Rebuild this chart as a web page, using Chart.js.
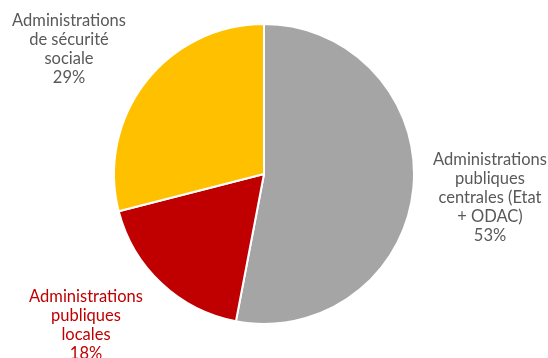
<!DOCTYPE html>
<html>
<head>
<meta charset="utf-8">
<script src="https://cdn.jsdelivr.net/npm/chart.js@4"></script>
<style>
  html, body { margin: 0; padding: 0; background: #ffffff; }
  #cadre { width: 548px; height: 358px; }
</style>
</head>
<body>
<div id="cadre"><canvas id="graphique"></canvas></div>
<script>
const CATEGORIES = [
    ["Administrations", "publiques", "centrales (Etat", "+ ODAC)"],
    ["Administrations", "publiques", "locales"],
    ["Administrations", "de sécurité", "sociale"]
];
const VALEURS = [53, 18, 29];
const COULEURS = ["#A5A5A5", "#C00000", "#FFC000"];
const COULEURS_TEXTE = ["#595959", "#C00000", "#595959"];

// position du centre de chaque étiquette (x, y de la première ligne)
const POSITIONS_ETIQUETTES = [[490, 160], [86, 297], [69, 21]];

// Étiquettes autour du camembert
const pluginEtiquettes = {
    id: 'etiquettes',
    afterDraw(chart) {
        let ctx = chart.ctx;
        ctx.save();
        ctx.font = '16.5px Lato';
        ctx.textAlign = 'center';
        ctx.textBaseline = 'middle';
        for (let i = 0; i < CATEGORIES.length; i++) {
            let lignes = CATEGORIES[i].concat([VALEURS[i] + "%"]);
            ctx.fillStyle = COULEURS_TEXTE[i];
            for (let j = 0; j < lignes.length; j++) {
                ctx.fillText(lignes[j], POSITIONS_ETIQUETTES[i][0], POSITIONS_ETIQUETTES[i][1] + j * 19);
            }
        }
        ctx.restore();
    }
};

new Chart(document.getElementById('graphique'), {
    type: 'pie',
    data: {
        labels: CATEGORIES.map(c => c.join(' ')),
        datasets: [{ data: VALEURS, backgroundColor: COULEURS, borderColor: '#ffffff', borderWidth: 2 }]
    },
    options: {
        responsive: true, maintainAspectRatio: false, animation: false,
        layout: { padding: { left: 113, right: 133, top: 23, bottom: 33 } },
        plugins: { legend: { display: false }, tooltip: { enabled: false } }
    },
    plugins: [pluginEtiquettes]
});
</script>
</body>
</html>
